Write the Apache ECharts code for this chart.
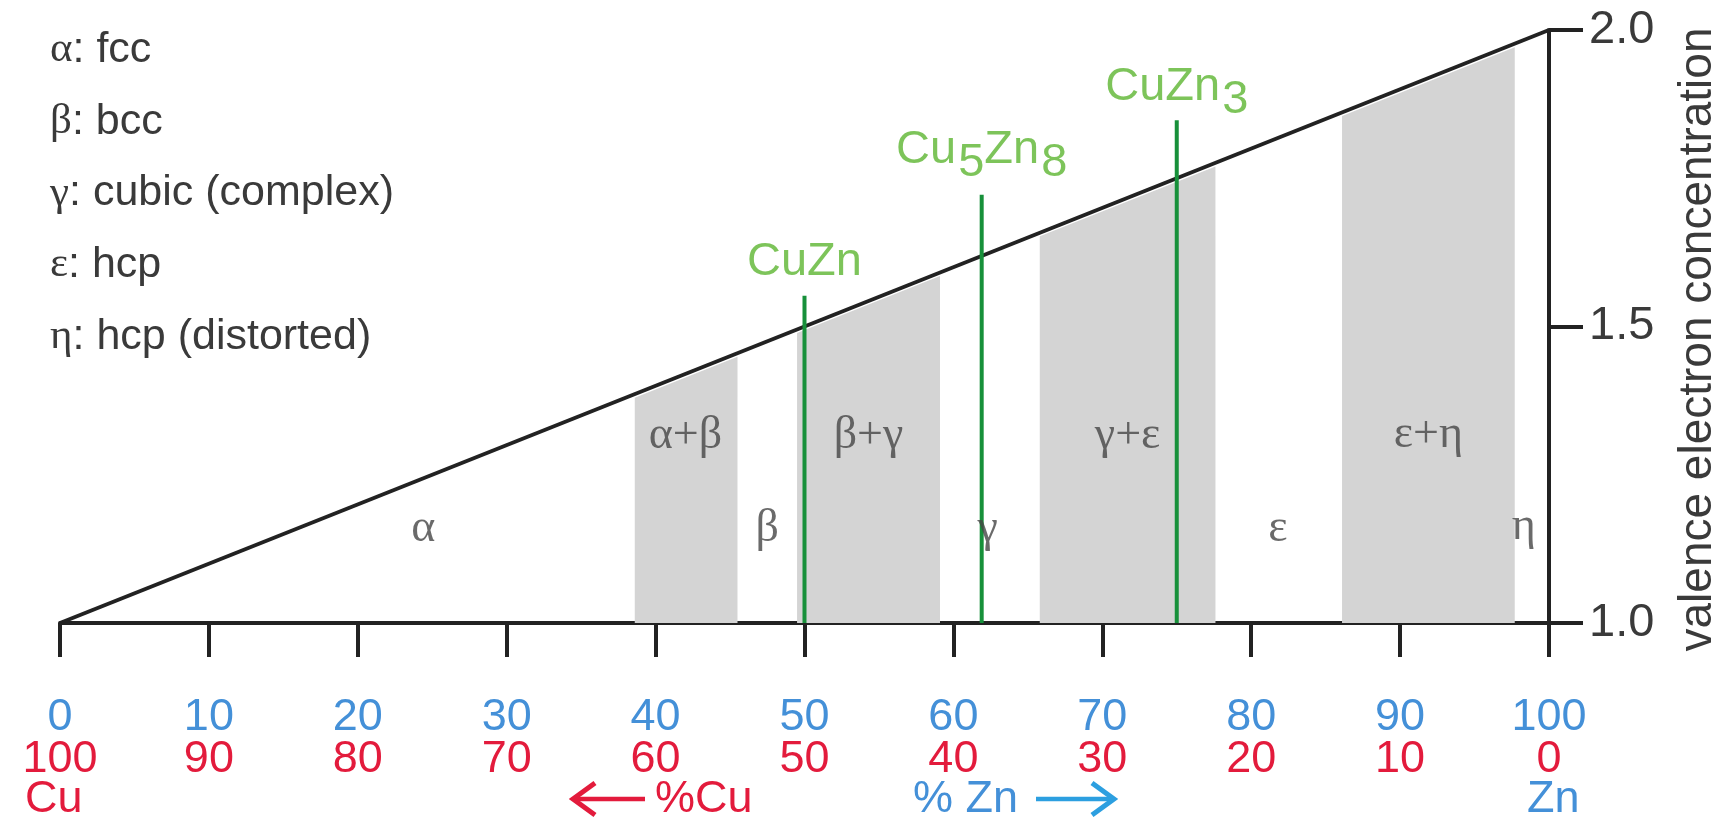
<!DOCTYPE html>
<html>
<head>
<meta charset="utf-8">
<script src="https://cdn.jsdelivr.net/npm/echarts@6/dist/echarts.min.js"></script>
<style>html,body{margin:0;padding:0;background:#fff;overflow:hidden}#chart{width:1729px;height:837px;display:block}</style>
</head>
<body>
<div id="chart"></div>
<script>
// ---- data ----
const diagonal = [[0, 1.0], [100, 2.0]];
const znTickLabels = ['0','10','20','30','40','50','60','70','80','90','100'];
const cuTickLabels = ['100','90','80','70','60','50','40','30','20','10','0'];
const vecTickLabels = ['1.0','1.5','2.0'];
const bandStart = [38.6, 49.5, 65.8, 86.1];
const bandEnd = [45.5, 59.1, 77.6, 97.7];
const bandTopStart = [1.380, 1.489, 1.652, 1.855];
const bandTopEnd = [1.449, 1.585, 1.770, 1.971];
const compoundNames = ['CuZn', 'Cu5Zn8', 'CuZn3'];
const compoundX = [50, 61.9, 75];
const compoundTop = [1.552, 1.722, 1.848];
const compoundLabelY = [1.609, 1.798, 1.903];
const phaseNames = ['α','β','γ','ε','η','α+β','β+γ','γ+ε','ε+η'];
const phaseX = [24.4, 47.5, 62.3, 81.8, 98.3, 42.0, 54.3, 71.7, 91.9];
const phaseY = [1.158, 1.158, 1.158, 1.158, 1.162, 1.316, 1.316, 1.316, 1.318];
const legendGreek = ['α','β','γ','ε','η'];
const legendText = [': fcc', ': bcc', ': cubic (complex)', ': hcp', ': hcp (distorted)'];

// ---- style ----
const BLUE = '#4490d8', RED = '#e31b3c', ARROW_BLUE = '#2c9fe0';
const GREEN_T = '#5cb531', GREEN_L = '#17903a';
const GRAY = '#d4d4d4', INK = '#222222', TXT = '#3a3a3a';
const SANS = '"Liberation Sans", Arial, sans-serif';
const SERIF = '"Liberation Serif", "Times New Roman", serif';

const chart = echarts.init(document.getElementById('chart'), null, { width: 1729, height: 837 });

const bandData = bandStart.map((s, i) => [s, bandEnd[i], bandTopStart[i], bandTopEnd[i]]);
const compData = compoundNames.map((n, i) => [compoundX[i], compoundTop[i]]);
const compLabelData = compoundNames.map((n, i) => ({ name: n, value: [compoundX[i], compoundLabelY[i]] }));
const phaseData = phaseNames.map((n, i) => ({ name: n, value: [phaseX[i], phaseY[i]] }));

function compRich(name) {
  // digits drawn as lowered subscripts
  return name.replace(/([A-Za-z]+)(\d?)/g, (m, a, d) => '{n|' + a + '}' + (d ? '{s|' + d + '}' : ''));
}

const legendGraphics = legendGreek.map((g, i) => ({
  type: 'text', x: 50, y: 50 + i * 71.7,
  style: {
    text: '{g|' + g + '}{t|' + legendText[i] + '}',
    verticalAlign: 'middle', align: 'left',
    rich: {
      g: { fontFamily: SERIF, fontSize: 43, fill: TXT, color: TXT },
      t: { fontFamily: SANS, fontSize: 43, fill: TXT, color: TXT }
    }
  }
}));

function arrow(x1, x2, y, color, leftward) {
  const tipX = leftward ? x1 : x2;
  const d = leftward ? 1 : -1;
  return [
    { type: 'line', shape: { x1: x1 + (leftward ? 2 : 0), y1: y, x2: x2 - (leftward ? 0 : 2), y2: y },
      style: { stroke: color, lineWidth: 4.5 } },
    { type: 'polyline', shape: { points: [[tipX + d * 22, y - 16], [tipX, y], [tipX + d * 22, y + 16]] },
      style: { stroke: color, lineWidth: 5, fill: null, lineJoin: 'miter' } }
  ];
}

const bottomY = 800;
function bottomText(x, text, color) {
  return { type: 'text', x: x, y: bottomY,
    style: { text: text, fontFamily: SANS, fontSize: 45, fill: color, align: 'left', verticalAlign: 'middle' } };
}
const graphics = legendGraphics.concat([
  bottomText(25, 'Cu', RED),
  bottomText(655, '%Cu', RED),
  bottomText(913, '% Zn', BLUE),
  bottomText(1527, 'Zn', BLUE)
]).concat(arrow(573, 645, bottomY - 1, RED, true)).concat(arrow(1036, 1114, bottomY - 1, ARROW_BLUE, false));

const option = {
  backgroundColor: '#fff',
  animation: false,
  grid: { left: 60, right: 169, top: 30, bottom: 214, containLabel: false },
  xAxis: [
    {
      type: 'value', min: 0, max: 100, interval: 10, position: 'bottom',
      axisLine: { show: true, onZero: false, lineStyle: { color: INK, width: 4 } },
      axisTick: { show: true, inside: false, length: 34, lineStyle: { color: INK, width: 4 } },
      splitLine: { show: false },
      axisLabel: { margin: 72, fontSize: 45, fontFamily: SANS, color: BLUE,
        formatter: (v) => znTickLabels[Math.round(v / 10)] }
    },
    {
      type: 'value', min: 0, max: 100, interval: 10, position: 'bottom',
      axisLine: { show: false }, axisTick: { show: false }, splitLine: { show: false },
      axisLabel: { margin: 114, fontSize: 45, fontFamily: SANS, color: RED,
        formatter: (v) => cuTickLabels[Math.round(v / 10)] }
    }
  ],
  yAxis: {
    type: 'value', min: 1, max: 2, interval: 0.5, position: 'right',
    axisLine: { show: true, onZero: false, lineStyle: { color: INK, width: 4 } },
    axisTick: { show: true, inside: false, length: 34, lineStyle: { color: INK, width: 4 } },
    splitLine: { show: false },
    axisLabel: { margin: 40, fontSize: 47, fontFamily: SANS, color: TXT,
      formatter: (v) => vecTickLabels[Math.round((v - 1) / 0.5)] },
    name: 'valence electron concentration', nameLocation: 'middle', nameGap: 126, nameRotate: 90,
    nameTextStyle: { fontSize: 46, fontFamily: SANS, color: TXT, padding: [0, 26, 0, 0] }
  },
  graphic: graphics,
  series: [
    {
      type: 'custom', name: 'bands', z: 1, data: bandData,
      encode: { x: [0, 1], y: [2, 3] },
      renderItem: (params, api) => {
        const x1 = api.value(0), x2 = api.value(1), t1 = api.value(2), t2 = api.value(3);
        const pts = [api.coord([x1, 1]), api.coord([x1, t1]), api.coord([x2, t2]), api.coord([x2, 1])];
        return { type: 'polygon', shape: { points: pts }, style: { fill: GRAY } };
      }
    },
    {
      type: 'line', name: 'diagonal', z: 3, data: diagonal, symbol: 'none',
      lineStyle: { color: INK, width: 4 }
    },
    {
      type: 'custom', name: 'compounds', z: 4, data: compData,
      encode: { x: 0, y: 1 },
      renderItem: (params, api) => {
        const p0 = api.coord([api.value(0), 1]);
        const p1 = api.coord([api.value(0), api.value(1)]);
        return { type: 'line', shape: { x1: p0[0], y1: p0[1], x2: p1[0], y2: p1[1] },
          style: { stroke: GREEN_L, lineWidth: 4 } };
      }
    },
    {
      type: 'scatter', name: 'compoundLabels', z: 5, data: compLabelData,
      symbolSize: 1, itemStyle: { color: 'rgba(0,0,0,0)' },
      label: {
        show: true, position: 'inside',
        formatter: (p) => compRich(p.name),
        rich: {
          n: { fontFamily: SANS, fontSize: 47, color: GREEN_T },
          s: { fontFamily: SANS, fontSize: 47, color: GREEN_T, padding: [26, 0, 0, 2] }
        }
      }
    },
    {
      type: 'scatter', name: 'phases', z: 5, data: phaseData,
      symbolSize: 1, itemStyle: { color: 'rgba(0,0,0,0)' },
      label: { show: true, position: 'inside', formatter: (p) => p.name,
        fontFamily: SERIF, fontSize: 46, color: '#454545' }
    }
  ]
};
chart.setOption(option);
</script>
</body>
</html>
